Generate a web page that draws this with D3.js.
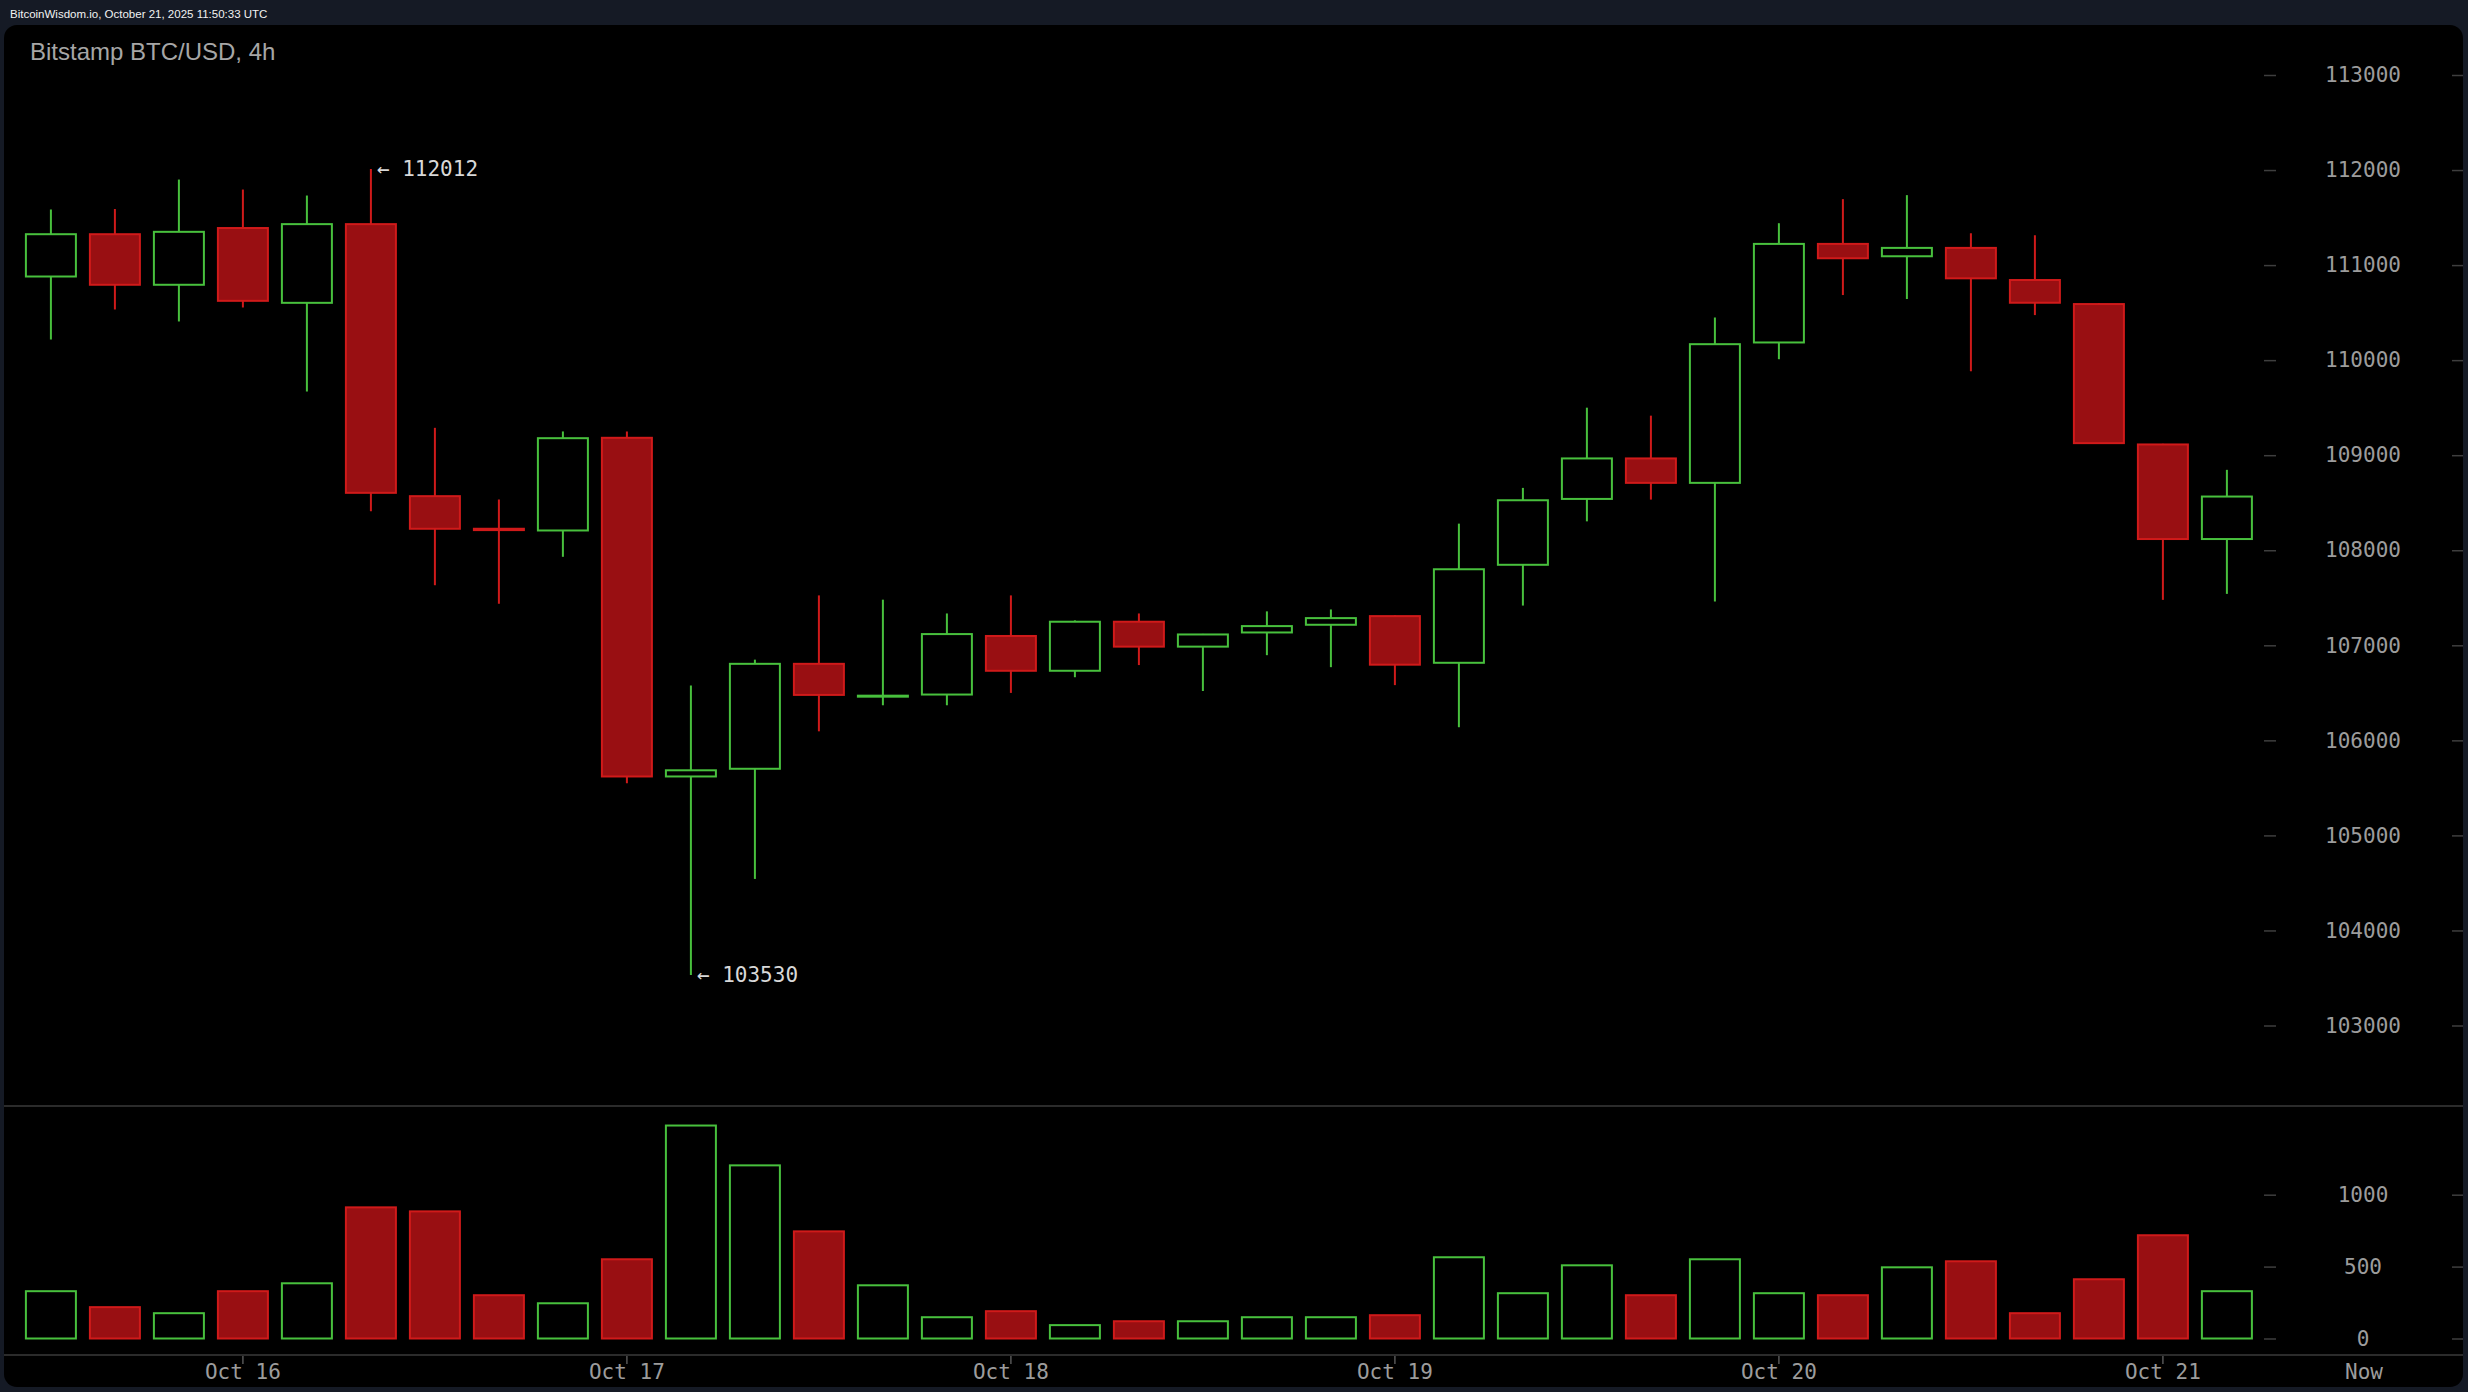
<!DOCTYPE html>
<html>
<head>
<meta charset="utf-8">
<script src="https://cdn.jsdelivr.net/npm/d3@7"></script>
<style>
  html, body { margin: 0; padding: 0; background: #151a25; overflow: hidden; }
  svg { display: block; }
</style>
</head>
<body>
<svg id="chart" width="2468" height="1392"></svg>
<script>
// ---------- DATA ----------
const open  = [110880,111325,110793,111390,110603,111431,108569,108226,108208,109183,
               105620,105701,106805,106462,106482,107098,106732,107248,106986,107135,
               107216,107307,106816,107847,108540,108966,108709,110186,111223,111093,
               111181,110843,110590,109113,108118];
const high  = [111585,111590,111900,111795,111732,112012,109288,108534,109250,109250,
               106578,106849,107525,107480,107335,107525,107262,107335,107120,107357,
               107377,107315,108280,108656,109500,109416,110449,111441,111694,111736,
               111335,111314,110600,109120,108846];
const low   = [110217,110533,110407,110554,109670,108411,107632,107437,107931,105548,
               103530,104542,106095,106369,106369,106499,106664,106792,106519,106896,
               106770,106581,106138,107418,108304,108533,107460,110010,110685,110643,
               109883,110474,109120,107478,107541];
const close = [111325,110793,111350,110624,111431,108604,108226,108212,109179,105620,
               105685,106805,106478,106470,107118,106732,107248,106986,107114,107202,
               107286,106796,107800,108526,108966,108709,110168,111223,111072,111181,
               110861,110604,109127,108118,108565];
const volume = [329,218,176,329,384,912,884,301,245,551,
                1481,1204,745,370,148,190,93,120,120,148,
                148,162,565,315,509,301,551,315,301,495,
                537,176,412,718,329];
const priceTicks = [103000,104000,105000,106000,107000,108000,109000,110000,111000,112000,113000];
const volumeTicks = [0,500,1000];
const xTickIndex = [3,9,15,21,27,33];
const xTickLabels = ["Oct 16","Oct 17","Oct 18","Oct 19","Oct 20","Oct 21"];
const headerText = "BitcoinWisdom.io, October 21, 2025 11:50:33 UTC";
const titleText = "Bitstamp BTC/USD, 4h";

// ---------- STYLE ----------
const GREEN = "#48c03d";
const RED_STROKE = "#d01a1a";
const RED_FILL = "#990f12";
const AXIS_TEXT = "#9c9c9c";
const TICK = "#3e3e3e";
const MONO = "'DejaVu Sans Mono', monospace";

const svg = d3.select("#chart");

// panel
svg.append("rect").attr("x", 4).attr("y", 25).attr("width", 2459).attr("height", 1362)
   .attr("rx", 13).attr("fill", "#000");

svg.append("text").attr("x", 10).attr("y", 18)
   .attr("font-family", "'Liberation Sans', Arial, sans-serif").attr("font-size", 11.5)
   .attr("fill", "#f2f2f2").text(headerText);

svg.append("text").attr("x", 30).attr("y", 60)
   .attr("font-family", "'Liberation Sans', Arial, sans-serif").attr("font-size", 24)
   .attr("fill", "#a6a6a6").text(titleText);

// scales
const n = open.length;
const x = d3.scaleBand().domain(d3.range(n)).range([18.9, 2258.9])
  .paddingInner(0.1875).paddingOuter(0.09375);
const bw = x.bandwidth();
const cx = i => x(i) + bw / 2;
const y = d3.scaleLinear().domain([103000, 113000]).range([1025.5, 75]);
const yv = d3.scaleLinear().domain([0, 1000]).range([1338.5, 1194.7]);

// separators
[1106, 1355].forEach(yy => {
  svg.append("line").attr("x1", 4).attr("x2", 2463).attr("y1", yy).attr("y2", yy)
     .attr("stroke", "#3a3a3a").attr("stroke-width", 1.5);
});

const isUp = i => close[i] >= open[i];
const data = d3.range(n);

// wicks
svg.append("g").selectAll("line").data(data).join("line")
  .attr("x1", cx).attr("x2", cx)
  .attr("y1", i => y(high[i])).attr("y2", i => y(low[i]))
  .attr("stroke", i => isUp(i) ? GREEN : RED_STROKE).attr("stroke-width", 2);

// bodies
svg.append("g").selectAll("rect").data(data).join("rect")
  .attr("x", i => x(i) + 1).attr("width", bw - 2)
  .attr("y", i => y(Math.max(open[i], close[i])))
  .attr("height", i => Math.max(1, Math.abs(y(open[i]) - y(close[i]))))
  .attr("fill", i => isUp(i) ? "#000" : RED_FILL)
  .attr("stroke", i => isUp(i) ? GREEN : RED_STROKE).attr("stroke-width", 2);

// volume bars
svg.append("g").selectAll("rect").data(data).join("rect")
  .attr("x", i => x(i) + 1).attr("width", bw - 2)
  .attr("y", i => yv(volume[i]))
  .attr("height", i => yv(0) - yv(volume[i]))
  .attr("fill", i => isUp(i) ? "#000" : RED_FILL)
  .attr("stroke", i => isUp(i) ? GREEN : RED_STROKE).attr("stroke-width", 2);

// high / low annotations
const hi = d3.maxIndex(high), lo = d3.minIndex(low);
[[hi, high[hi]], [lo, low[lo]]].forEach(([i, v]) => {
  svg.append("text").attr("x", cx(i) + 6).attr("y", y(v)).attr("dy", "0.35em")
     .attr("font-family", MONO).attr("font-size", 21).attr("fill", "#d8d8d8")
     .text("\u2190 " + v);
});

// y axes (price)
function styleAxis(g, labels) {
  g.select(".domain").remove();
  g.selectAll(".tick line").attr("stroke", TICK).attr("stroke-width", 1.5);
  if (labels) {
    g.selectAll(".tick text").attr("x", 99).attr("text-anchor", "middle")
      .attr("fill", AXIS_TEXT).attr("font-family", MONO).attr("font-size", 21);
  } else {
    g.selectAll(".tick text").remove();
  }
}
svg.append("g").attr("transform", "translate(2264,0)")
  .call(d3.axisRight(y).tickValues(priceTicks).tickSize(12).tickFormat(d3.format("d")))
  .call(g => styleAxis(g, true));
svg.append("g").attr("transform", "translate(2452,0)")
  .call(d3.axisRight(y).tickValues(priceTicks).tickSize(11))
  .call(g => styleAxis(g, false));
svg.append("g").attr("transform", "translate(2264,0)")
  .call(d3.axisRight(yv).tickValues(volumeTicks).tickSize(12).tickFormat(d3.format("d")))
  .call(g => styleAxis(g, true));
svg.append("g").attr("transform", "translate(2452,0)")
  .call(d3.axisRight(yv).tickValues(volumeTicks).tickSize(11))
  .call(g => styleAxis(g, false));

// x axis
const xAxisG = svg.append("g").attr("transform", "translate(0,1356)")
  .call(d3.axisBottom(x).tickValues(xTickIndex).tickSize(8)
        .tickFormat((d, k) => xTickLabels[k]));
xAxisG.select(".domain").remove();
xAxisG.selectAll(".tick line").attr("stroke", "#555").attr("stroke-width", 1.5);
xAxisG.selectAll(".tick text").attr("y", 8).attr("dy", "0.71em")
  .attr("fill", AXIS_TEXT).attr("font-family", MONO).attr("font-size", 21);

svg.append("text").attr("x", 2364).attr("y", 1364).attr("dy", "0.71em")
  .attr("text-anchor", "middle").attr("fill", AXIS_TEXT)
  .attr("font-family", MONO).attr("font-size", 21).text("Now");
</script>
</body>
</html>
